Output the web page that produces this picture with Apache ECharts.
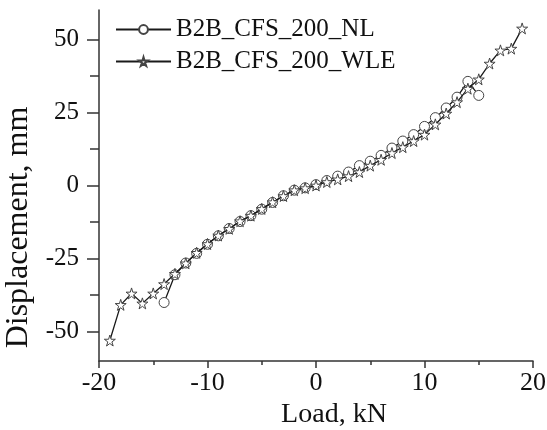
<!DOCTYPE html>
<html>
<head>
<meta charset="utf-8">
<script src="https://cdn.jsdelivr.net/npm/echarts@6/dist/echarts.min.js"></script>
<style>
html,body{margin:0;padding:0;background:#fff;}
#chart{width:547px;height:430px;}
</style>
</head>
<body>
<div id="chart"></div>
<script>
// ---- data ----
const seriesNames = ['B2B_CFS_200_NL', 'B2B_CFS_200_WLE'];
const loadNL = [-14,-13,-12,-11,-10,-9,-8,-7,-6,-5,-4,-3,-2,-1,0,1,2,3,4,5,6,7,8,9,10,11,12,13,14,15];
const dispNL = [-40,-30.5,-26.5,-23.2,-20.1,-17.2,-14.7,-12.3,-10.3,-8.1,-5.8,-3.5,-1.6,-0.8,0.3,1.7,3.2,4.6,6.8,8.3,10.3,12.8,15.2,17.4,20.2,23.2,26.5,30.2,35.6,30.8];
const loadWLE = [-19,-18,-17,-16,-15,-14,-13,-12,-11,-10,-9,-8,-7,-6,-5,-4,-3,-2,-1,0,1,2,3,4,5,6,7,8,9,10,11,12,13,14,15,16,17,18,19];
const dispWLE = [-53,-40.8,-36.9,-40.3,-36.9,-33.7,-30.2,-26.6,-23.0,-20.0,-17.1,-14.8,-12.2,-10.3,-8.0,-5.7,-3.6,-1.6,-0.9,0.0,1.2,2.1,3.2,4.6,6.8,8.8,11.1,13.1,15.2,17.4,20.9,24.6,28.5,33.1,36.3,41.7,46.2,46.8,53.7];
const xTicks = [-20,-10,0,10,20];
const yMajorTicks = [-50,-25,0,25,50];
const yMinorTicks = [-37.5,-12.5,12.5,37.5];

const FONT = '"Liberation Serif", "DejaVu Serif", serif';
const STAR = 'path://M50,0 L61,35 L98,35 L68,57 L79,91 L50,70 L21,91 L32,57 L2,35 L39,35 Z';

function pairs(xs, ys){ return xs.map((x,i)=>[x, ys[i]]); }

const chart = echarts.init(document.getElementById('chart'), null, {renderer:'canvas'});
chart.setOption({
  animation: false,
  backgroundColor: '#fff',
  grid: {left: 99, right: 14, top: 10, bottom: 69, containLabel: false, outerBoundsMode: 'none'},
  legend: {
    orient: 'vertical', left: 110, top: 12, itemWidth: 55, itemHeight: 11, itemGap: 7,
    textStyle: {fontFamily: FONT, fontSize: 25, color: '#111'},
    data: seriesNames
  },
  xAxis: {
    type: 'value', min: -20, max: 20, interval: 10,
    name: 'Load, kN', nameLocation: 'middle', nameGap: 39,
    nameTextStyle: {fontFamily: FONT, fontSize: 28, color: '#111', padding: [0, 0, 0, 36]},
    axisLine: {onZero: false, lineStyle: {color: '#333', width: 1.5}},
    axisTick: {show: true, inside: false, length: 7, lineStyle: {color: '#333', width: 1.5}},
    minorTick: {show: true, splitNumber: 2, length: 4, lineStyle: {color: '#333', width: 1.5}},
    axisLabel: {fontFamily: FONT, fontSize: 26, color: '#111', margin: 9,
      customValues: xTicks},
    splitLine: {show: false}
  },
  yAxis: [{
    type: 'value', min: -60, max: 60,
    name: 'Displacement, mm', nameLocation: 'middle', nameGap: 61,
    nameTextStyle: {fontFamily: FONT, fontSize: 32, color: '#111', padding: [0, 84, 0, 0]},
    axisLine: {onZero: false, lineStyle: {color: '#333', width: 1.5}},
    axisTick: {show: true, inside: false, length: 12, customValues: yMajorTicks, lineStyle: {color: '#333', width: 1.5}},
    axisLabel: {fontFamily: FONT, fontSize: 25, color: '#111', margin: 20, customValues: yMajorTicks},
    splitLine: {show: false}
  },{
    type: 'value', min: -60, max: 60, position: 'left',
    axisLine: {show: false, onZero: false},
    axisTick: {show: true, inside: false, length: 9, customValues: yMinorTicks, lineStyle: {color: '#333', width: 1.5}},
    axisLabel: {show: false},
    splitLine: {show: false}
  }],
  series: [{
    name: seriesNames[0], type: 'line', data: pairs(loadNL, dispNL),
    symbol: 'circle', symbolSize: 10, showAllSymbol: true,
    lineStyle: {color: '#1a1a1a', width: 1.3},
    itemStyle: {color: '#fff', borderColor: '#444', borderWidth: 1},
    z: 2
  },{
    name: seriesNames[1], type: 'line', data: pairs(loadWLE, dispWLE),
    symbol: STAR, symbolSize: 11, showAllSymbol: true,
    lineStyle: {color: '#1a1a1a', width: 1.3},
    itemStyle: {color: '#fff', borderColor: '#444', borderWidth: 1},
    z: 3
  }]
});
</script>
</body>
</html>
